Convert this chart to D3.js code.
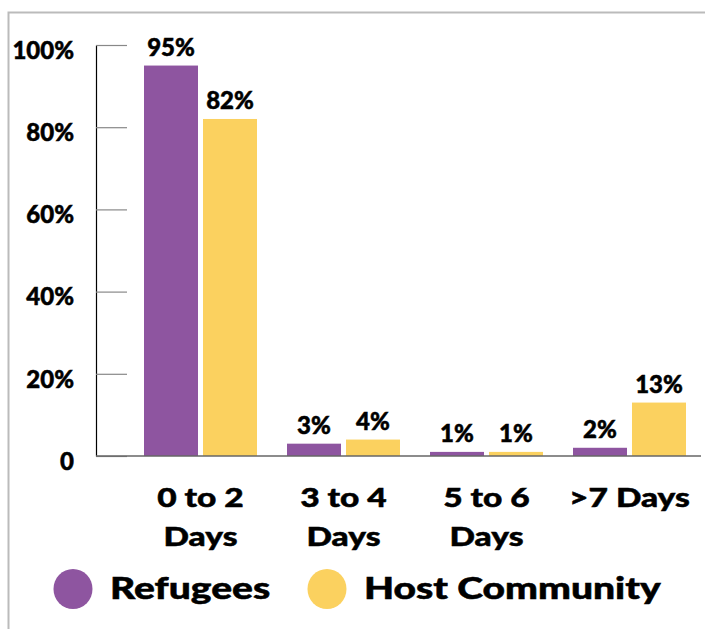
<!DOCTYPE html>
<html>
<head>
<meta charset="utf-8">
<title>Days bar chart</title>
<script src="https://cdn.jsdelivr.net/npm/d3@7"></script>
<style>
  body { margin: 0; background: #fff; }
  svg text { font-family: Lato, "DejaVu Sans", sans-serif; font-weight: 900; fill: #000; stroke: #000; stroke-width: 0.5px; }
</style>
</head>
<body>
<div id="chart"></div>
<script>
// categories and series
var categories = ["0 to 2 Days", "3 to 4 Days", "5 to 6 Days", ">7 Days"];
var catLines = [["0 to 2", "Days"], ["3 to 4", "Days"], ["5 to 6", "Days"], [">7 Days"]];
var series = ["Refugees", "Host Community"];
var refugees = [95, 3, 1, 2];
var hostCommunity = [82, 4, 1, 13];
var yTicks = [0, 20, 40, 60, 80, 100];
var colors = ["#8E55A0", "#FBD15F"];

var width = 705, height = 629;

var svg = d3.select("#chart").append("svg")
    .attr("width", width)
    .attr("height", height);

// outer frame (only top and left are visible in the picture)
svg.append("rect")
    .attr("x", 8.5).attr("y", 12.5)
    .attr("width", width).attr("height", height)
    .attr("fill", "none")
    .attr("stroke", "#bbb")
    .attr("stroke-width", 2);

var y = d3.scaleLinear().domain([0, 100]).range([456, 45]);

var x0 = d3.scaleBand().domain(categories).range([129, 701]);
var x1 = d3.scaleBand().domain(series).range([15, 128]).paddingInner(0.085);

// the original font (Gill Sans) is wider than Lato, stretch the big labels
function widen(sel, k) {
    sel.each(function() {
        var w = this.getComputedTextLength();
        d3.select(this)
            .attr("textLength", w * k)
            .attr("lengthAdjust", "spacingAndGlyphs");
    });
}

// y axis
var yAxis = svg.append("g")
    .attr("transform", "translate(96,0)")
    .call(d3.axisLeft(y)
        .tickValues(yTicks)
        .tickSizeInner(-31)
        .tickSizeOuter(0)
        .tickPadding(22)
        .tickFormat(function(d) { return d === 0 ? "0" : d + "%"; }));

yAxis.select(".domain").attr("stroke", "#000").attr("stroke-width", 1.2);
yAxis.selectAll(".tick line").attr("stroke", "#888").attr("stroke-width", 1.2);
yAxis.selectAll(".tick text")
    .attr("font-size", 24)
    .attr("dy", "0.55em")
    .style("font-family", "Lato, sans-serif")
    .style("font-weight", 900)
    .attr("fill", "#000");

// bars
var rows = categories.map(function(c, i) {
    return { cat: c, values: [refugees[i], hostCommunity[i]] };
});

var groups = svg.selectAll(".grp")
    .data(rows)
    .enter().append("g")
    .attr("class", "grp")
    .attr("transform", function(d) { return "translate(" + x0(d.cat) + ",0)"; });

groups.selectAll("rect")
    .data(function(d) { return d.values.map(function(v, j) { return { s: series[j], v: v, j: j }; }); })
    .enter().append("rect")
    .attr("x", function(d) { return x1(d.s); })
    .attr("width", x1.bandwidth())
    .attr("y", function(d) { return y(d.v); })
    .attr("height", function(d) { return y(0) - y(d.v); })
    .attr("fill", function(d) { return colors[d.j]; });

groups.selectAll(".val")
    .data(function(d) { return d.values.map(function(v, j) { return { s: series[j], v: v }; }); })
    .enter().append("text")
    .attr("class", "val")
    .attr("x", function(d) { return x1(d.s) + x1.bandwidth() / 2; })
    .attr("y", function(d) { return y(d.v) - 10; })
    .attr("text-anchor", "middle")
    .attr("font-size", 24)
    .text(function(d) { return d.v + "%"; });

// baseline
svg.append("line")
    .attr("x1", 96).attr("x2", 701)
    .attr("y1", y(0)).attr("y2", y(0))
    .attr("stroke", "#666")
    .attr("stroke-width", 1.5);

// category labels, one text per line
categories.forEach(function(c, i) {
    catLines[i].forEach(function(line, k) {
        svg.append("text")
            .attr("class", "cat")
            .attr("x", x0(c) + x0.bandwidth() / 2)
            .attr("y", 507 + k * 39)
            .attr("text-anchor", "middle")
            .attr("font-size", 27)
            .text(line);
    });
});
widen(svg.selectAll(".cat"), 1.24);

// legend
var legendX = [73, 327];
series.forEach(function(s, i) {
    svg.append("ellipse")
        .attr("cx", legendX[i]).attr("cy", 589)
        .attr("rx", 19.5).attr("ry", 20)
        .attr("fill", colors[i]);
    svg.append("text")
        .attr("class", "leg")
        .attr("x", legendX[i] + 37)
        .attr("y", 599)
        .attr("font-size", 30)
        .text(s);
});
widen(svg.selectAll(".leg"), 1.3);
</script>
</body>
</html>
